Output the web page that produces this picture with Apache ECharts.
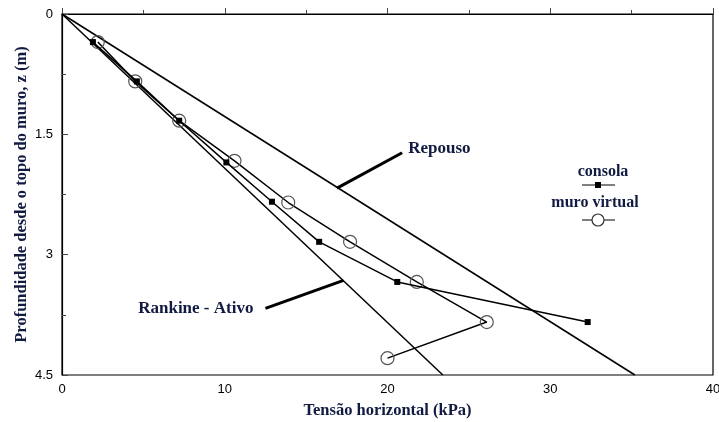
<!DOCTYPE html>
<html><head><meta charset="utf-8">
<script src="https://cdn.jsdelivr.net/npm/echarts@6/dist/echarts.min.js"></script>
<style>html,body{margin:0;padding:0;background:#fff}#c{width:719px;height:422px}</style>
</head><body><div id="c"></div>
<script>
// Data (x = tensão horizontal kPa, y = profundidade m)
const consolaX = [1.9, 4.6, 7.2, 10.1, 12.9, 15.8, 20.6, 32.3];
const consolaY = [0.35, 0.84, 1.33, 1.85, 2.34, 2.84, 3.34, 3.84];
const muroX = [2.2, 4.5, 7.2, 10.6, 13.9, 17.7, 21.8, 26.1, 20.0];
const muroY = [0.35, 0.84, 1.33, 1.83, 2.35, 2.84, 3.34, 3.84, 4.29];
const repousoX = [0, 35.2];
const repousoY = [0, 4.5];
const rankineX = [0, 23.4];
const rankineY = [0, 4.5];
const repousoPointerX = [16.9, 20.9];
const repousoPointerY = [2.17, 1.73];
const rankinePointerX = [17.3, 12.5];
const rankinePointerY = [3.32, 3.67];
const xTicks = [0, 10, 20, 30, 40];
const yTicks = [0, 1.5, 3, 4.5];

const zip = (a, b) => a.map((v, i) => [v, b[i]]);
const navy = '#111a40';
const serif = '"Liberation Serif", "DejaVu Serif", serif';
const lblStyle = { fontFamily: serif, fontWeight: 'bold', fontSize: 17, color: navy };

const chart = echarts.init(document.getElementById('c'));
chart.setOption({
  animation: false,
  grid: { left: 62, right: 6, top: 14, bottom: 47, show: true, borderColor: '#000', borderWidth: 1.2,
          containLabel: false, outerBoundsMode: 'none' },
  xAxis: {
    type: 'value', min: xTicks[0], max: xTicks[xTicks.length - 1], interval: 10,
    name: 'Tensão horizontal (kPa)', nameLocation: 'middle', nameGap: 27,
    nameTextStyle: { fontFamily: serif, fontWeight: 'bold', fontSize: 16.5, color: navy },
    axisLine: { lineStyle: { color: '#000', width: 1.2 } },
    axisTick: { inside: true, length: 6, lineStyle: { color: '#444' } },
    minorTick: { show: true, splitNumber: 2, length: 4, lineStyle: { color: '#444' } },
    axisLabel: { fontFamily: 'Liberation Sans, Arial, sans-serif', fontSize: 13, color: '#000', margin: 8 },
    splitLine: { show: false }
  },
  yAxis: {
    type: 'value', inverse: true, min: yTicks[0], max: yTicks[yTicks.length - 1], interval: 1.5,
    name: 'Profundidade desde o topo do muro, z (m)', nameLocation: 'middle', nameGap: 32,
    nameMoveOverlap: false,
    nameTextStyle: { fontFamily: serif, fontWeight: 'bold', fontSize: 16.5, color: navy },
    axisLine: { lineStyle: { color: '#000', width: 1.2 } },
    axisTick: { inside: true, length: 6, lineStyle: { color: '#444' } },
    minorTick: { show: true, splitNumber: 2, length: 4, lineStyle: { color: '#444' } },
    axisLabel: { fontFamily: 'Liberation Sans, Arial, sans-serif', fontSize: 13, color: '#000', margin: 9 },
    splitLine: { show: false }
  },
  series: [
    { name: 'Repouso', type: 'line', data: zip(repousoX, repousoY), symbol: 'none',
      lineStyle: { color: '#000', width: 1.5 }, z: 2 },
    { name: 'Rankine - Ativo', type: 'line', data: zip(rankineX, rankineY), symbol: 'none',
      lineStyle: { color: '#000', width: 1.5 }, z: 2 },
    { name: 'repousoPointer', type: 'line', data: zip(repousoPointerX, repousoPointerY),
      symbol: 'none', lineStyle: { color: '#000', width: 3 } },
    { name: 'rankinePointer', type: 'line', data: zip(rankinePointerX, rankinePointerY),
      symbol: 'none', lineStyle: { color: '#000', width: 3 } },
    { name: 'labels', type: 'scatter', symbolSize: 0, silent: true, itemStyle: { opacity: 1 },
      data: [
        { value: [repousoPointerX[1], repousoPointerY[1]], label: { show: true, formatter: 'Repouso', position: 'right', distance: 6, offset: [0, -4], ...lblStyle } },
        { value: [rankinePointerX[1], rankinePointerY[1]], label: { show: true, formatter: 'Rankine - Ativo', position: 'left', distance: 12, ...lblStyle } }
      ] },
    { name: 'consola', type: 'line', data: zip(consolaX, consolaY), symbol: 'rect', symbolSize: 6,
      itemStyle: { color: '#000' }, lineStyle: { color: '#000', width: 1.5 }, z: 4 },
    { name: 'muro virtual', type: 'line', data: zip(muroX, muroY), symbol: 'circle', symbolSize: 13,
      itemStyle: { color: 'rgba(255,255,255,0)', borderColor: '#555', borderWidth: 1.2 },
      lineStyle: { color: '#000', width: 1.5 }, z: 3 }
  ],
  graphic: [
    { type: 'text', style: { text: 'consola', x: 603, y: 172, align: 'center', verticalAlign: 'middle', font: 'bold 16px ' + serif, fill: navy } },
    { type: 'line', shape: { x1: 582, y1: 185, x2: 615, y2: 185 }, style: { stroke: '#000', lineWidth: 1 } },
    { type: 'rect', shape: { x: 595, y: 182, width: 6, height: 6 }, style: { fill: '#000' } },
    { type: 'text', style: { text: 'muro virtual', x: 595, y: 203, align: 'center', verticalAlign: 'middle', font: 'bold 16px ' + serif, fill: navy } },
    { type: 'line', shape: { x1: 582, y1: 220, x2: 615, y2: 220 }, style: { stroke: '#000', lineWidth: 1 } },
    { type: 'circle', shape: { cx: 598, cy: 220, r: 6 }, style: { fill: '#fff', stroke: '#333', lineWidth: 1.2 } }
  ]
});
</script></body></html>
